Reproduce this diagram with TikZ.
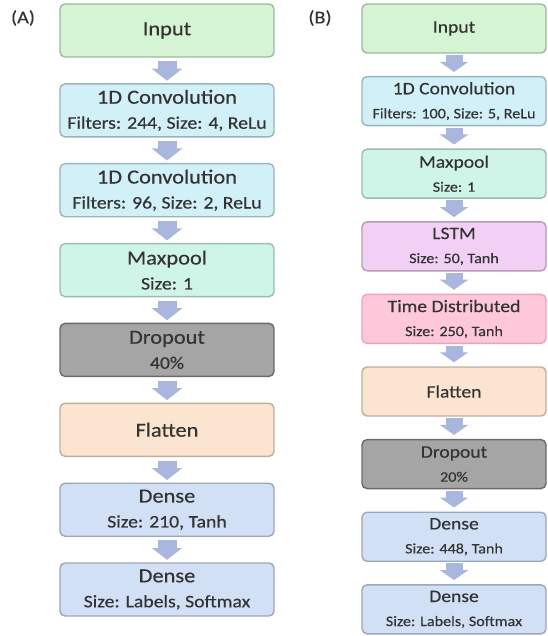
\documentclass[tikz,border=0pt]{standalone}
\usepackage{fontspec}
\setmainfont{Carlito}[FakeStretch=1.12, FakeBold=0.4]
\usetikzlibrary{arrows.meta}
\definecolor{txt}{HTML}{333333}
\definecolor{arrowc}{HTML}{A9B7DE}
\definecolor{inF}{HTML}{D4F4D4}\definecolor{inD}{HTML}{9DB89D}
\definecolor{cvF}{HTML}{D2F0F8}\definecolor{cvD}{HTML}{9AB4BC}
\definecolor{mpF}{HTML}{CFF5E9}\definecolor{mpD}{HTML}{9CBAB0}
\definecolor{drF}{HTML}{A5A5A5}\definecolor{drD}{HTML}{6A6A6A}
\definecolor{flF}{HTML}{FBE5D0}\definecolor{flD}{HTML}{BFAE9E}
\definecolor{dnF}{HTML}{D2E0F6}\definecolor{dnD}{HTML}{9AA8BC}
\definecolor{lsF}{HTML}{F2D0F5}\definecolor{lsD}{HTML}{B79BB9}
\definecolor{tdF}{HTML}{FFC7DA}\definecolor{tdD}{HTML}{F0A0BC}
\newcommand\ttlA{\fontsize{20}{25}\selectfont}
\newcommand\subA{\fontsize{17.6}{25}\selectfont}
\newcommand\ttlB{\fontsize{17.5}{24}\selectfont}
\newcommand\subB{\fontsize{14.4}{24}\selectfont}
\tikzset{
  box/.style={rounded corners=5pt, line width=1.4pt, align=center, inner sep=0pt, text=txt},
  boxA/.style={box, minimum width=214pt, minimum height=53pt, font=\ttlA},
  boxB/.style={box, minimum width=184pt, minimum height=49pt, font=\ttlB},
  inp/.style={fill=inF, draw=inD},
  cnv/.style={fill=cvF, draw=cvD},
  mxp/.style={fill=mpF, draw=mpD},
  drp/.style={fill=drF, draw=drD},
  flt/.style={fill=flF, draw=flD},
  dns/.style={fill=dnF, draw=dnD},
  lst/.style={fill=lsF, draw=lsD},
  tdb/.style={fill=tdF, draw=tdD},
  flowA/.style={draw=arrowc, line width=19pt, -{Triangle[width=30pt,length=12pt]}, shorten <=3.5pt, shorten >=2.5pt},
  flowB/.style={draw=arrowc, line width=17pt, -{Triangle[width=28pt,length=10pt]}, shorten <=1.5pt, shorten >=4pt},
  tag/.style={font=\fontsize{18}{22}\selectfont, text=txt, inner sep=0pt}
}
\begin{document}
\begin{tikzpicture}[x=1pt, y=-1pt]
\useasboundingbox (0,0) rectangle (547,636);
\node[tag] (tA) at (23,18) {(A)};
\node[tag] (tB) at (320,18) {(B)};
% column A
\node[boxA, inp] (a1) at (167,30.5) {Input};
\node[boxA, cnv] (a2) at (167,110.4) {1D Convolution\\\subA Filters: 244, Size: 4, ReLu};
\node[boxA, cnv] (a3) at (167,190.2) {1D Convolution\\\subA Filters: 96, Size: 2, ReLu};
\node[boxA, mxp] (a4) at (167,270.1) {Maxpool\\\subA Size: 1};
\node[boxA, drp] (a5) at (167,349.9) {Dropout\\\subA 40\%};
\node[boxA, flt] (a6) at (167,429.8) {Flatten};
\node[boxA, dns] (a7) at (167,509.7) {Dense\\\subA Size: 210, Tanh};
\node[boxA, dns] (a8) at (167,589.5) {Dense\\\subA Size: Labels, Softmax};
\foreach \i/\j in {a1/a2,a2/a3,a3/a4,a4/a5,a5/a6,a6/a7,a7/a8}
  \draw[flowA] (\i.south) -- (\j.north);
% column B
\node[boxB, inp] (b1) at (454,28.5) {Input};
\node[boxB, cnv] (b2) at (454,101.1) {1D Convolution\\\subB Filters: 100, Size: 5, ReLu};
\node[boxB, mxp] (b3) at (454,173.7) {Maxpool\\\subB Size: 1};
\node[boxB, lst] (b4) at (454,246.3) {LSTM\\\subB Size: 50, Tanh};
\node[boxB, tdb] (b5) at (454,318.9) {Time Distributed\\\subB Size: 250, Tanh};
\node[boxB, flt] (b6) at (454,391.5) {Flatten};
\node[boxB, drp] (b7) at (454,464.1) {Dropout\\\subB 20\%};
\node[boxB, dns] (b8) at (454,536.7) {Dense\\\subB Size: 448, Tanh};
\node[boxB, dns] (b9) at (454,609.3) {Dense\\\subB Size: Labels, Softmax};
\foreach \i/\j in {b1/b2,b2/b3,b3/b4,b4/b5,b5/b6,b6/b7,b7/b8,b8/b9}
  \draw[flowB] (\i.south) -- (\j.north);
\end{tikzpicture}
\end{document}
